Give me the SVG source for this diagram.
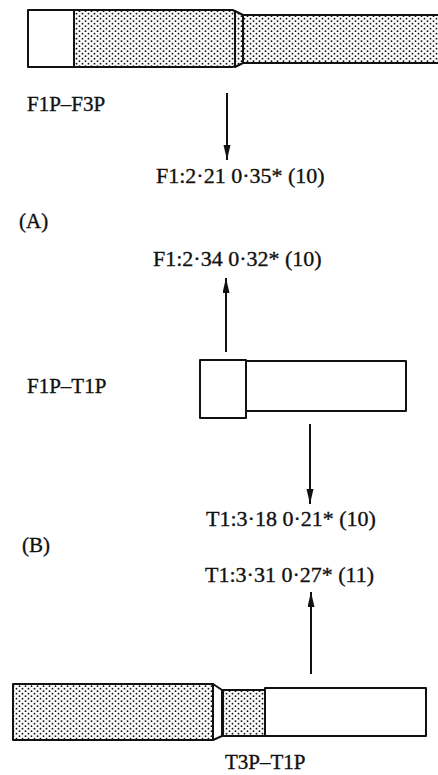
<svg xmlns="http://www.w3.org/2000/svg" width="438" height="775" viewBox="0 0 438 775">
  <defs>
    <pattern id="stipple" width="6" height="5" patternUnits="userSpaceOnUse">
      <rect width="6" height="5" fill="#fafafa"/>
      <circle cx="1.5" cy="1.2" r="0.9" fill="#111"/>
      <circle cx="4.5" cy="3.7" r="0.9" fill="#111"/>
    </pattern>
    <marker id="head" markerUnits="userSpaceOnUse" markerWidth="16" markerHeight="8" refX="15" refY="3.5" orient="auto">
      <path d="M0,0 L15,3.5 L0,7 Z" fill="#111"/>
    </marker>
  </defs>
  <style>
    text { font-family: "Liberation Serif", "Times New Roman", serif; font-size: 21px; fill: #111; stroke: #111; stroke-width: 0.35; }
    .val { font-size: 22px; }
    .seg { stroke: #111; stroke-width: 2; stroke-linejoin: round; }
    .white { fill: #fff; }
    .dots { fill: url(#stipple); }
    .conn { stroke: #111; stroke-width: 2; fill: none; marker-end: url(#head); }
  </style>
  <rect width="438" height="775" fill="#fff"/>

  <!-- F1P-F3P bar -->
  <g id="bar-f1p-f3p">
    <path class="seg dots" d="M243,15 L440,15 L440,63 L243,63 Z"/>
    <path class="seg dots" d="M235,11 L243,15 L243,63 L235,67 Z"/>
    <path class="seg dots" d="M74,10 L232,10 Q235,10 235,13 L235,65 Q235,67 232,67 L74,67 Z"/>
    <rect class="seg white" x="28" y="10" width="46" height="57"/>
    <text x="27" y="111">F1P–F3P</text>
  </g>

  <!-- F1P-T1P piece -->
  <g id="bar-f1p-t1p">
    <rect class="seg white" x="246" y="361" width="160" height="50"/>
    <rect class="seg white" x="200" y="360" width="46" height="58"/>
    <text x="27" y="393">F1P–T1P</text>
  </g>

  <!-- T3P-T1P bar -->
  <g id="bar-t3p-t1p">
    <rect class="seg dots" x="13" y="684" width="200" height="56"/>
    <path class="seg white" d="M213,684 L222,690 L222,736 L213,740 Z"/>
    <rect class="seg dots" x="223" y="690" width="42" height="46"/>
    <rect class="seg white" x="265" y="688" width="161" height="48"/>
    <text x="225" y="769">T3P–T1P</text>
  </g>

  <!-- measurements -->
  <g id="label-a">
    <text class="val" x="156" y="183">F1:2·21 0·35* (10)</text>
    <text x="19" y="228">(A)</text>
  </g>
  <g id="label-f1-up">
    <text class="val" x="153" y="266">F1:2·34 0·32* (10)</text>
  </g>
  <g id="label-b">
    <text class="val" x="206" y="526">T1:3·18 0·21* (10)</text>
    <text x="22" y="552">(B)</text>
  </g>
  <g id="label-t1-up">
    <text class="val" x="205" y="582">T1:3·31 0·27* (11)</text>
  </g>

  <!-- connectors -->
  <g id="connectors">
    <line class="conn" x1="227" y1="93" x2="227" y2="160"/>
    <line class="conn" x1="226" y1="352" x2="226" y2="278"/>
    <line class="conn" x1="310" y1="424" x2="310" y2="504"/>
    <line class="conn" x1="311" y1="674" x2="311" y2="592"/>
  </g>
</svg>
